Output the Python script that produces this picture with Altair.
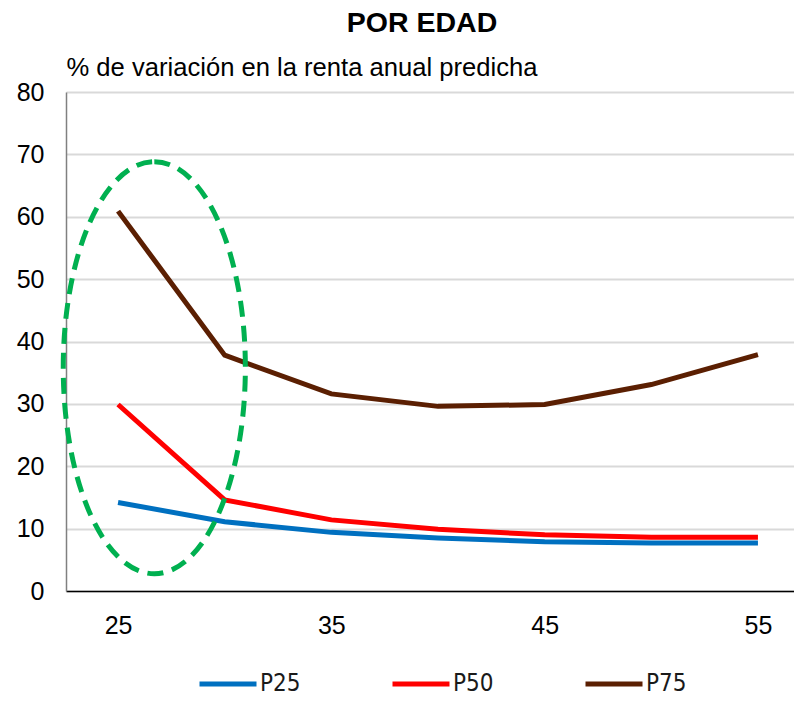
import altair as alt
import pandas as pd

ages = [25, 30, 35, 40, 45, 50, 55]
p25 = [14.2, 11.1, 9.4, 8.5, 7.9, 7.7, 7.7]
p50 = [29.9, 14.6, 11.4, 9.9, 9.0, 8.6, 8.6]
p75 = [60.9, 37.8, 31.6, 29.6, 29.9, 33.1, 37.9]
series_names = ["P25", "P50", "P75"]
series_colors = ["#0070C0", "#FF0000", "#5B1F02"]
x_ticks = [25, 35, 45, 55]
y_ticks = [0, 10, 20, 30, 40, 50, 60, 70, 80]

# annotation ellipse (centre in data units)
ellipse_age = [26.7]
ellipse_val = [35.8]

rows = []
for name, vals in zip(series_names, [p25, p50, p75]):
    for a, v in zip(ages, vals):
        rows.append({"edad": a, "valor": v, "serie": name})
df = pd.DataFrame(rows)
ell_df = pd.DataFrame({"edad": ellipse_age, "valor": ellipse_val})

FONT = "Liberation Sans"

x_scale = alt.Scale(domain=[22.56, 56.69], nice=False, zero=False)
y_scale = alt.Scale(domain=[0, 80], nice=False)

lines = alt.Chart(df).mark_line(strokeWidth=5, strokeCap="butt").encode(
    x=alt.X("edad:Q", scale=x_scale,
            axis=alt.Axis(values=x_ticks, title=None, grid=False, ticks=False,
                          labelFontSize=25, labelColor="#000000", labelFont=FONT,
                          labelPadding=22, domainColor="#000000", domainWidth=1.5)),
    y=alt.Y("valor:Q", scale=y_scale,
            axis=alt.Axis(values=y_ticks, grid=True, gridColor="#D9D9D9", gridWidth=2,
                          ticks=False, labelFontSize=25, labelColor="#000000",
                          labelFont=FONT, labelPadding=22, domainColor="#808080",
                          domainWidth=1.5,
                          title="% de variación en la renta anual predicha",
                          titleAngle=0, titleAlign="left", titleBaseline="alphabetic",
                          titleX=0, titleY=-17, titleFont=FONT, titleFontSize=25.6,
                          titleFontWeight="normal", titleColor="#000000")),
    color=alt.Color("serie:N",
                    scale=alt.Scale(domain=series_names, range=series_colors),
                    legend=alt.Legend(title=None, orient="none", direction="horizontal",
                                      legendX=131, legendY=561, padding=0,
                                      symbolType="stroke", symbolSize=3249,
                                      symbolStrokeWidth=5, labelOffset=1,
                                      columnPadding=81, labelFontSize=24,
                                      labelFont="DejaVu Sans Condensed, Liberation Sans",
                                      labelColor="#1a1a1a")),
)

ellipse_path = ("M 0 -1 C 0.244 -1 0.442 -0.552 0.442 0 "
                "C 0.442 0.552 0.244 1 0 1 "
                "C -0.244 1 -0.442 0.552 -0.442 0 "
                "C -0.442 -0.552 -0.244 -1 0 -1 Z")

ellipse = alt.Chart(ell_df).mark_point(
    shape=ellipse_path, size=412 * 412, filled=False, stroke="#00B050",
    strokeWidth=5, strokeDash=[16, 9], opacity=1
).encode(
    x=alt.X("edad:Q", scale=x_scale),
    y=alt.Y("valor:Q", scale=y_scale),
)

chart = alt.layer(lines, ellipse).properties(
    width=728, height=499,
    autosize=alt.AutoSizeParams(type="none"),
    padding={"left": 58, "top": 84, "right": 0, "bottom": 102},
    title=alt.TitleParams("POR EDAD", font=FONT, fontSize=28.5, fontWeight="bold",
                          color="#000000", anchor="middle", dx=-8, offset=18),
).configure_view(stroke=None)

chart.save("out.html", embed_options={"renderer": "svg", "actions": False})
